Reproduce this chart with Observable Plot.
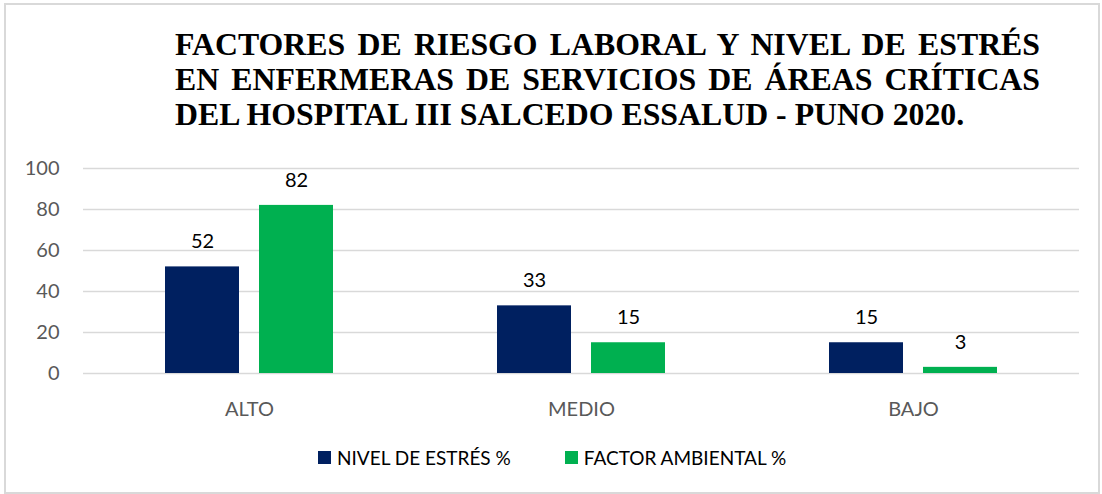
<!DOCTYPE html>
<html>
<head>
<meta charset="utf-8">
<script src="https://cdn.jsdelivr.net/npm/d3@7"></script>
<script src="https://cdn.jsdelivr.net/npm/@observablehq/plot@0.6"></script>
<style>
  html, body { margin: 0; padding: 0; background: #fff; }
  #frame { position: absolute; left: 4px; top: 3px; width: 1092px; height: 487px; border: 2px solid #d9d9d9; box-sizing: content-box; }
  #title { position: absolute; left: 175px; top: 27px; width: 865px; font-family: "Liberation Serif", "Times New Roman", serif; font-weight: bold; font-size: 31.8px; line-height: 35px; color: #000; }
  #title div { text-align: justify; text-align-last: justify; white-space: nowrap; }
  #title div.last { text-align: left; text-align-last: left; }
  #chart { position: absolute; left: 0; top: 148px; }
  #legend { position: absolute; left: 318px; top: 446px; display: flex; align-items: center; font-family: Lato, "Open Sans", sans-serif; font-size: 19px; color: #000; }
  .sw { width: 13px; height: 13px; display: inline-block; margin-right: 6px; }
  .item { display: flex; align-items: center; margin-right: 54px; }
</style>
</head>
<body>
<div id="frame"></div>
<div id="title">
  <div>FACTORES DE RIESGO LABORAL Y NIVEL DE ESTRÉS</div>
  <div>EN ENFERMERAS DE SERVICIOS DE ÁREAS CRÍTICAS</div>
  <div class="last">DEL HOSPITAL III SALCEDO ESSALUD - PUNO 2020.</div>
</div>
<div id="chart"></div>
<div id="legend"></div>
<script>
const categories = ["ALTO", "MEDIO", "BAJO"];
const seriesNames = ["NIVEL DE ESTRÉS %", "FACTOR AMBIENTAL %"];
const nivelEstres = [52, 33, 15];
const factorAmbiental = [82, 15, 3];
const colors = ["#002060", "#00B050"];
const yTicks = [0, 20, 40, 60, 80, 100];

const data = [];
categories.forEach((c, i) => {
  data.push({cat: c, series: seriesNames[0], value: nivelEstres[i]});
  data.push({cat: c, series: seriesNames[1], value: factorAmbiental[i]});
});

const chart = Plot.plot({
  width: 1102,
  height: 270,
  marginLeft: 82,
  marginRight: 22,
  marginTop: 20,
  marginBottom: 45,
  style: {fontFamily: "Lato, 'Open Sans', sans-serif", fontSize: "20px", background: "transparent", overflow: "visible"},
  fx: {domain: categories, padding: 0, label: null, axis: null},
  x: {domain: seriesNames, paddingInner: 0.21, paddingOuter: 0.86, axis: null},
  y: {domain: [0, 100], ticks: yTicks, label: null, axis: null},
  color: {domain: seriesNames, range: colors},
  marks: [
    Plot.gridY(yTicks, {stroke: "#d9d9d9", strokeOpacity: 1, strokeWidth: 1.5}),
    Plot.axisY({ticks: yTicks, tickSize: 0, tickPadding: 24, color: "#595959", fontSize: 20, label: null}),
    Plot.axisFx({anchor: "bottom", tickSize: 0, tickPadding: 28, color: "#595959", fontSize: 20, label: null}),
    Plot.barY(data, {fx: "cat", x: "series", y: "value", fill: "series"}),
    Plot.text(data, {fx: "cat", x: "series", y: "value", text: d => String(d.value), dy: -25, fill: "#000", fontSize: 20})
  ]
});
document.getElementById("chart").appendChild(chart);

const legend = document.getElementById("legend");
seriesNames.forEach((s, i) => {
  const item = document.createElement("div");
  item.className = "item";
  const sw = document.createElement("span");
  sw.className = "sw";
  sw.style.background = colors[i];
  item.appendChild(sw);
  item.appendChild(document.createTextNode(s));
  legend.appendChild(item);
});
</script>
</body>
</html>
